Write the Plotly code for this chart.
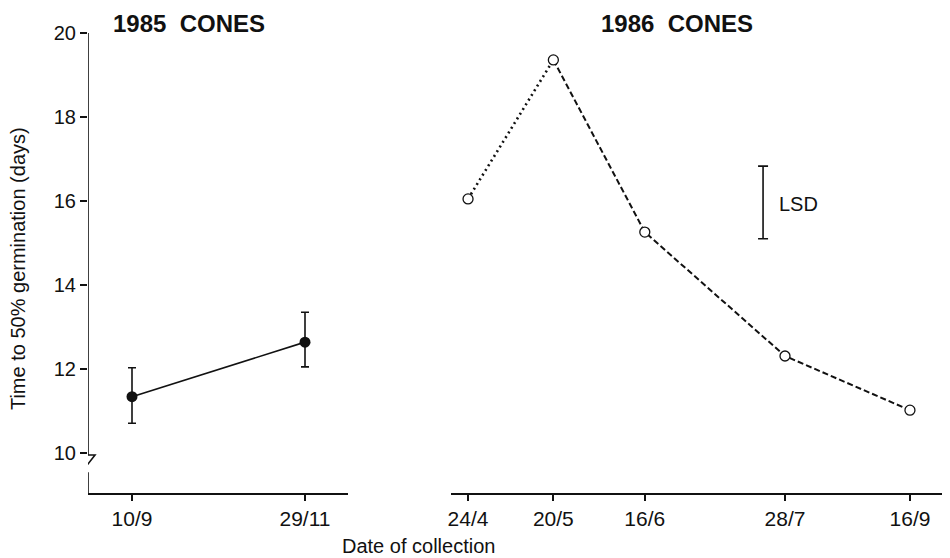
import plotly.graph_objects as go

# ---- data ----
labels_1985 = ["10/9", "29/11"]
x_1985 = [0, 1]
y_1985 = [11.34, 12.64]
err_hi_1985 = [12.03, 13.35]
err_lo_1985 = [10.71, 12.05]

labels_1986 = ["24/4", "20/5", "16/6", "28/7", "16/9"]
# position along the collection-date axis as drawn (days after 24/4)
x_1986 = [0, 28, 58, 104, 145]
y_1986 = [16.05, 19.36, 15.26, 12.31, 11.02]

lsd_x = 96.8
lsd_lo = 15.10
lsd_hi = 16.83

y_ticks = [10, 12, 14, 16, 18, 20]

FONT = "Liberation Sans, Arial, Helvetica, sans-serif"
BLACK = "#111111"

fig = go.Figure()

# 1985 cones: solid line with filled markers and error bars
fig.add_trace(go.Scatter(
    x=x_1985, y=y_1985, mode="lines+markers",
    line=dict(color=BLACK, width=1.6),
    marker=dict(size=11, color=BLACK, symbol="circle"),
    error_y=dict(type="data", symmetric=False,
                 array=[h - v for h, v in zip(err_hi_1985, y_1985)],
                 arrayminus=[v - l for l, v in zip(err_lo_1985, y_1985)],
                 color=BLACK, thickness=1.6, width=4),
    xaxis="x", yaxis="y", showlegend=False, hoverinfo="skip"))

# 1986 cones: dotted first segment, dashed remainder
fig.add_trace(go.Scatter(
    x=x_1986[:2], y=y_1986[:2], mode="lines",
    line=dict(color=BLACK, width=2.6, dash="2px,3.5px"),
    xaxis="x2", yaxis="y", showlegend=False, hoverinfo="skip"))
fig.add_trace(go.Scatter(
    x=x_1986[1:], y=y_1986[1:], mode="lines",
    line=dict(color=BLACK, width=2.0, dash="6px,3px"),
    xaxis="x2", yaxis="y", showlegend=False, hoverinfo="skip"))
fig.add_trace(go.Scatter(
    x=x_1986, y=y_1986, mode="markers",
    marker=dict(size=10, color="white", symbol="circle",
                line=dict(color=BLACK, width=1.3)),
    xaxis="x2", yaxis="y", showlegend=False, hoverinfo="skip"))

# LSD bar
lsd_mid = (lsd_lo + lsd_hi) / 2
fig.add_trace(go.Scatter(
    x=[lsd_x], y=[lsd_mid], mode="markers",
    marker=dict(size=1, color="rgba(0,0,0,0)"),
    error_y=dict(type="data", array=[lsd_hi - lsd_mid], color=BLACK,
                 thickness=1.6, width=5),
    xaxis="x2", yaxis="y", showlegend=False, hoverinfo="skip"))

# y-axis line with break (drawn as shape)
ax = -0.2543
fig.add_shape(type="path",
              path=(f"M {ax},20 L {ax},9.952 L {ax + 0.0405},9.952 "
                    f"L {ax - 0.0405},9.524 L {ax},9.524 L {ax},9.048"),
              xref="x", yref="y", line=dict(color=BLACK, width=1.6),
              layer="above")

axis_common = dict(showgrid=False, zeroline=False, showline=True,
                   linecolor=BLACK, linewidth=1.6, ticks="outside",
                   ticklen=6, tickwidth=1.6, tickcolor=BLACK,
                   tickfont=dict(family=FONT, size=21, color=BLACK))

fig.update_layout(
    width=942, height=550,
    margin=dict(l=80, r=5, t=25, b=65),
    paper_bgcolor="white", plot_bgcolor="white",
    xaxis=dict(domain=[0, 0.3034], range=[-0.2543, 1.2486],
               tickvals=x_1985, ticktext=labels_1985, anchor="y",
               **axis_common),
    xaxis2=dict(domain=[0.4236, 1.0], range=[-5.58, 156.5],
                tickvals=x_1986, ticktext=labels_1986, anchor="y",
                **axis_common),
    yaxis=dict(range=[9.048, 20], tickvals=y_ticks, showgrid=False,
               zeroline=False, showline=False, ticks="outside",
               ticklen=7, tickwidth=1.6, tickcolor=BLACK,
               tickfont=dict(family=FONT, size=20, color=BLACK)),
    annotations=[
        dict(text="<b>1985  CONES</b>", x=0.1179, y=1.0207, xref="paper",
             yref="paper", showarrow=False, xanchor="center",
             yanchor="middle", font=dict(family=FONT, size=24, color=BLACK)),
        dict(text="<b>1986  CONES</b>", x=0.6873, y=1.0535, xref="paper",
             yref="paper", showarrow=False, xanchor="center",
             yanchor="top", font=dict(family=FONT, size=24, color=BLACK)),
        dict(text="Time to 50% germination (days)", x=-0.0817, y=0.489,
             xref="paper", yref="paper", showarrow=False, textangle=-90,
             xanchor="center", yanchor="middle",
             font=dict(family=FONT, size=20, color=BLACK)),
        dict(text="Date of collection", x=0.3862, y=-0.1152,
             xref="paper", yref="paper", showarrow=False,
             xanchor="center", yanchor="middle",
             font=dict(family=FONT, size=20, color=BLACK)),
        dict(text="LSD", x=101.4, y=15.93, xref="x2", yref="y",
             showarrow=False, xanchor="left", yanchor="middle",
             font=dict(family=FONT, size=20, color=BLACK)),
    ],
)

fig.write_html("out.html")
